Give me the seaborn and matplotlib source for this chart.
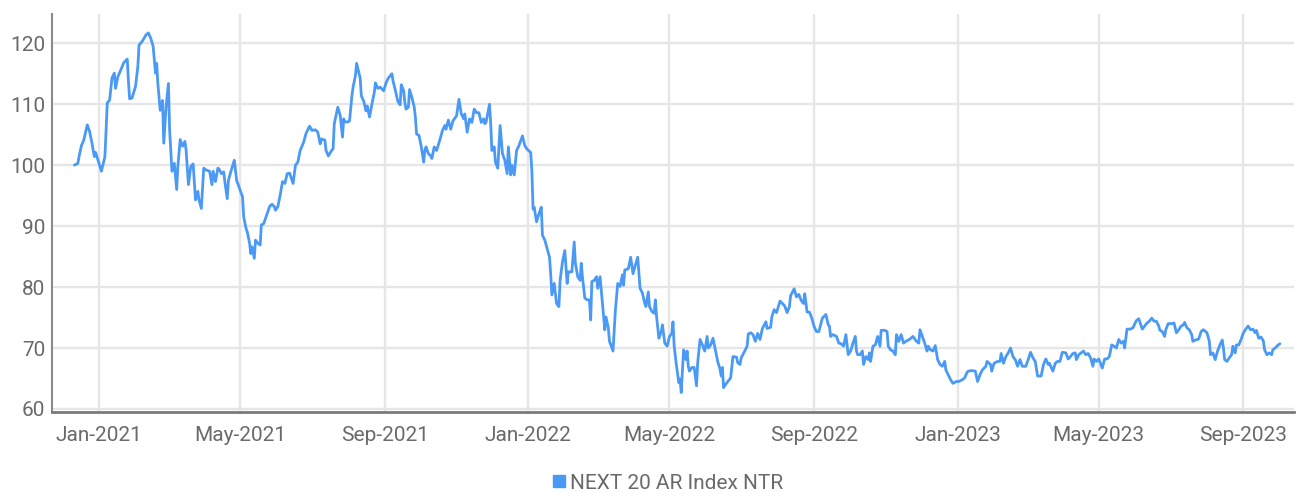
import pandas as pd
import seaborn as sns
import matplotlib.pyplot as plt
import matplotlib.dates as mdates
from matplotlib.lines import Line2D

# -----------------------------
# Data
# -----------------------------

base_date = "2021-01-01"
series_name = "NEXT 20 AR Index NTR"

# days relative to base_date
day_offsets = [
    -21, -18, -17, -15, -13, -10, -8, -6, -4, -3, -1, 2, 5, 7, 9, 11, 13, 14, 16, 18,
    21, 24, 25, 26, 28, 31, 33, 34, 37, 40, 42, 44, 46, 48, 49, 50, 52, 54, 55, 57,
    59, 60, 62, 64, 66, 67, 69, 71, 73, 74, 76, 78, 80, 82, 84, 85, 87, 89, 91, 94,
    96, 97, 99, 101,
    102, 104, 106, 107, 109, 110, 112, 115, 117, 120, 122, 123, 125, 126, 128, 129, 130, 132, 133, 135,
    137, 138, 140, 142, 145, 147, 149, 150, 152, 154, 156, 158, 160, 162, 165, 167, 169, 171, 174, 176,
    179, 181, 184, 186, 188, 189, 192, 193, 195, 197, 199, 200, 203, 205, 207, 208, 209, 212, 213, 215,
    216, 218, 219,
    222, 223, 225, 227, 228, 230, 232, 234, 235, 237, 239, 242, 244, 246, 249, 250, 252, 254, 256, 257,
    259, 260, 261, 263, 264, 266, 268, 269, 270, 272, 274, 276, 277, 278, 280, 282, 283, 285, 287, 290,
    292, 294, 295, 297, 299, 301, 304, 306, 308, 310, 311, 313, 315, 317, 319, 321, 323, 325, 327, 328,
    329, 332, 333, 334, 336, 337, 339, 341, 343, 345, 347, 348, 350, 351, 353, 355, 357,
    360, 362, 364, 367, 368, 369, 370, 372, 374, 376, 377, 379, 381, 383, 384, 385, 387, 389, 391, 392,
    394, 396, 398, 399, 402, 404, 405, 407, 409, 410, 411, 413, 415, 417, 418, 419, 421, 423, 424, 426,
    428, 430, 431, 433, 434, 437, 439, 441, 443, 445, 446, 447, 450, 452, 454, 456, 458, 460, 462, 464,
    465, 467, 468, 470, 472, 473, 474, 476, 478, 479, 481, 483, 485,
    487, 488, 489, 491, 493, 494, 495, 497, 499, 500, 501, 502, 504, 506, 508, 509, 511, 513, 515, 517,
    518, 520, 522, 524, 526, 528, 529, 530, 531, 533, 535, 537, 539, 542, 543, 545, 546, 549, 551, 552,
    554, 556, 558, 560, 562, 564, 567, 568, 571, 572, 574, 576, 579, 581, 583, 585, 587, 588, 591, 593,
    595, 597, 599, 600, 602, 604, 606, 608, 610, 612,
    615, 618, 620, 621, 622, 624, 627, 629, 631, 633, 635, 637, 639, 641, 643, 644, 645, 647, 649, 650,
    652, 654, 655, 656, 658, 660, 662, 664, 665, 668, 670, 671, 673, 675, 677, 678, 680, 682, 684, 686,
    689, 692, 695, 697, 698, 700, 702, 704, 705, 707, 709, 711, 713, 715, 717, 719, 720, 722, 724, 726,
    729, 731, 734, 736, 738, 739,
    742, 745, 747, 749, 751, 754, 755, 758, 759, 761, 764, 766, 767, 769, 771, 773, 775, 777, 779, 781,
    783, 785, 788, 790, 792, 794, 796, 798, 801, 803, 805, 807, 808, 811, 813, 815, 817, 819, 822, 824,
    826, 828, 830, 831, 833, 835, 837, 839, 841, 843, 845, 846, 848, 850, 853, 855, 857, 859, 861, 863,
    865, 867,
    869, 871, 872, 874, 877, 879, 882, 884, 887, 889, 891, 893, 895, 897, 899, 901, 902, 904, 906, 907,
    909, 912, 914, 916, 918, 920, 922, 923, 925, 927, 929, 930, 932, 934, 935, 937, 939, 942, 944, 945,
    947, 949, 951, 953, 955, 956, 957, 959, 961, 963, 964, 966, 967, 969, 971, 973, 975, 977, 979, 981,
    983, 984, 986, 988, 990, 991, 993, 995, 997, 998, 1000, 1002, 1004,
]

index_values = [
    100.0, 100.3, 101.4, 103.2, 104.1, 106.6, 105.5, 103.6, 101.4, 102.1, 100.9, 99.0, 101.4, 110.2, 110.7, 114.3, 115.1, 112.6, 114.5, 115.4,
    116.8, 117.4, 113.7, 110.9, 111.0, 112.9, 116.2, 119.7, 120.4, 121.4, 121.7, 120.8, 119.5, 115.1, 116.7, 113.4, 109.0, 110.6, 103.6, 109.6,
    113.4, 105.8, 99.0, 100.3, 96.0, 99.8, 104.2, 103.1, 103.9, 102.5, 96.8, 99.8, 100.2, 94.3, 95.7, 94.3, 92.9, 99.5, 99.2, 99.0,
    96.8, 99.0, 97.3, 99.5,
    99.4, 98.6, 98.9, 97.2, 94.5, 97.5, 98.9, 100.8, 97.5, 95.9, 94.8, 91.5, 89.6, 89.1, 87.2, 85.5, 86.6, 84.7, 87.7, 87.2,
    86.9, 90.2, 90.4, 91.5, 93.2, 93.6, 93.2, 92.6, 93.2, 95.1, 97.3, 97.0, 98.6, 98.7, 97.0, 100.0, 100.5, 102.4, 103.8, 105.2,
    106.4, 105.7, 105.8, 105.4, 103.5, 104.3, 104.1, 102.4, 101.5, 102.2, 102.7, 106.8, 109.5, 108.2, 104.6, 107.6, 107.1, 107.1, 107.3, 111.4,
    112.8, 114.7, 116.7,
    114.3, 111.4, 110.5, 108.9, 109.7, 107.9, 110.0, 111.9, 113.5, 112.6, 112.8, 112.2, 113.5, 114.3, 115.0, 113.8, 112.2, 110.5, 109.9, 113.2,
    112.2, 110.3, 109.2, 109.5, 112.4, 111.1, 109.5, 107.8, 105.1, 104.9, 103.0, 100.5, 102.4, 103.0, 101.9, 101.5, 101.1, 103.0, 102.4, 104.3,
    105.7, 106.5, 105.9, 107.4, 105.9, 107.3, 108.1, 110.8, 108.4, 107.6, 108.4, 105.4, 107.6, 107.0, 109.2, 108.6, 108.6, 107.0, 107.6, 106.8,
    107.0, 110.0, 106.8, 102.4, 103.0, 100.5, 99.5, 106.5, 101.9, 100.8, 98.6, 103.0, 98.4, 100.0, 98.4, 102.4, 103.2,
    104.8, 103.2, 102.6, 102.1, 99.1, 92.8, 93.1, 90.7, 92.0, 93.1, 88.5, 87.7, 86.3, 84.9, 82.2, 78.7, 80.6, 77.3, 76.8, 81.1,
    84.1, 86.0, 80.6, 82.5, 82.5, 87.4, 83.9, 81.7, 81.1, 83.9, 81.7, 78.2, 77.9, 77.9, 74.6, 80.9, 81.1, 81.7, 79.8, 81.7,
    77.3, 73.0, 75.1, 73.3, 71.1, 69.5, 76.2, 80.6, 80.1, 82.0, 80.3, 82.8, 83.0, 84.9, 82.2, 83.6, 84.9, 79.8, 79.0, 77.3,
    76.8, 79.2, 76.8, 76.0, 75.7, 77.9, 75.2, 71.6, 72.7, 73.8, 70.8, 70.3, 71.9,
    72.4, 74.3, 70.3, 67.0, 64.3, 64.9, 62.7, 69.7, 68.1, 69.5, 67.0, 66.2, 66.8, 66.8, 63.8, 67.6, 71.4, 70.5, 69.5, 71.9,
    70.0, 70.5, 71.6, 69.7, 67.8, 66.5, 65.4, 66.8, 63.5, 64.1, 64.6, 65.1, 68.6, 68.5, 67.6, 67.3, 68.4, 69.5, 70.3, 72.3,
    72.5, 72.2, 71.1, 72.4, 71.4, 73.2, 74.3, 73.2, 73.4, 75.1, 76.3, 75.8, 77.7, 77.3, 76.9, 75.8, 76.8, 78.6, 79.7, 78.4,
    78.8, 77.8, 77.3, 78.9, 75.9, 75.9, 74.9, 73.5, 72.7, 72.7,
    74.9, 75.5, 73.8, 73.6, 71.9, 72.2, 71.9, 70.8, 70.7, 70.3, 72.2, 68.9, 69.5, 70.8, 71.9, 69.5, 68.9, 68.9, 69.5, 67.3,
    68.6, 68.1, 69.2, 67.8, 70.3, 70.5, 71.9, 70.3, 72.9, 72.9, 72.7, 70.3, 69.7, 69.5, 68.9, 72.2, 71.1, 72.2, 70.8, 71.1,
    71.4, 71.9, 71.1, 70.8, 73.0, 71.9, 70.8, 69.5, 70.3, 69.7, 69.5, 70.4, 68.1, 67.3, 67.0, 67.8, 66.4, 65.6, 64.8, 64.2,
    64.5, 64.5, 64.8, 65.1, 66.0, 66.2,
    66.3, 66.2, 64.5, 65.6, 66.4, 67.0, 67.8, 67.3, 66.2, 67.5, 67.8, 67.8, 69.1, 67.5, 68.6, 69.2, 70.0, 68.6, 68.1, 67.0,
    68.1, 67.0, 67.0, 68.1, 69.3, 68.4, 67.8, 65.4, 65.4, 67.3, 68.2, 67.3, 67.5, 66.2, 67.5, 67.8, 67.8, 69.3, 69.2, 68.2,
    68.6, 69.1, 69.2, 68.1, 68.9, 69.2, 69.5, 68.9, 69.1, 68.4, 67.0, 68.2, 67.8, 68.2, 66.7, 68.2, 68.2, 68.6, 70.5, 70.3,
    70.0, 71.4,
    70.8, 71.1, 70.0, 73.1, 73.1, 73.3, 74.5, 74.8, 73.1, 73.6, 74.1, 74.4, 74.9, 74.4, 74.4, 73.6, 72.9, 72.7, 71.9, 73.0,
    74.0, 74.0, 74.1, 72.5, 73.0, 73.6, 73.8, 74.2, 73.3, 73.0, 72.2, 71.1, 71.3, 71.4, 71.5, 72.7, 73.0, 72.5, 71.1, 68.9,
    69.2, 68.1, 69.5, 70.5, 71.3, 70.0, 68.1, 67.8, 68.4, 68.9, 70.3, 69.2, 70.5, 70.5, 71.4, 72.5, 73.1, 73.6, 73.0, 73.1,
    72.5, 72.9, 71.6, 71.8, 71.1, 69.7, 68.9, 69.2, 68.9, 69.7, 70.0, 70.4, 70.7,
]

y_ticks = [60, 70, 80, 90, 100, 110, 120]

line_color = "#4A9AF5"
grid_color = "#E6E6E6"
text_color = "#6A6A6A"

# -----------------------------
# Setup
# -----------------------------

sns.set_style("white")
plt.rcParams["font.family"] = ["Roboto", "DejaVu Sans"]

df = pd.DataFrame({
    "date": pd.Timestamp(base_date) + pd.to_timedelta(day_offsets, unit="D"),
    "value": index_values,
})

fig = plt.figure(figsize=(12.96, 4.93), dpi=100)
ax = fig.add_axes([52 / 1296, 1 - 412 / 493, (1294 - 52) / 1296, (412 - 14) / 493])

sns.lineplot(data=df, x="date", y="value", ax=ax, color=line_color, linewidth=2.0)

# -----------------------------
# Axes styling
# -----------------------------

ax.set_xlim(pd.Timestamp(base_date) - pd.Timedelta(days=40), pd.Timestamp(base_date) + pd.Timedelta(days=1016))
ax.set_ylim(59.5, 124.8)
ax.set_yticks(y_ticks)
ax.xaxis.set_major_locator(mdates.MonthLocator(bymonth=[1, 5, 9]))
ax.xaxis.set_major_formatter(mdates.DateFormatter("%b-%Y"))

ax.grid(True, color=grid_color, linewidth=1.7)
ax.set_axisbelow(True)
ax.set_xlabel("")
ax.set_ylabel("")

for side in ["top", "right"]:
    ax.spines[side].set_visible(False)
ax.spines["left"].set_color("#8A8A8A")
ax.spines["left"].set_linewidth(1.5)
ax.spines["bottom"].set_color("#7A7A7A")
ax.spines["bottom"].set_linewidth(2.0)

ax.tick_params(axis="both", length=0, labelsize=15, labelcolor=text_color)
ax.tick_params(axis="x", pad=10)
ax.tick_params(axis="y", pad=5)

# -----------------------------
# Legend
# -----------------------------

handle = Line2D([], [], marker="s", linestyle="none", color=line_color, markersize=8)
fig.legend(
    [handle], [series_name],
    loc="center", bbox_to_anchor=(0.5147, 0.02),
    frameon=False, fontsize=15, labelcolor=text_color,
    handletextpad=0.1, handlelength=0.8, borderaxespad=0,
)

fig.savefig("out.png", dpi=100)
plt.close(fig)
